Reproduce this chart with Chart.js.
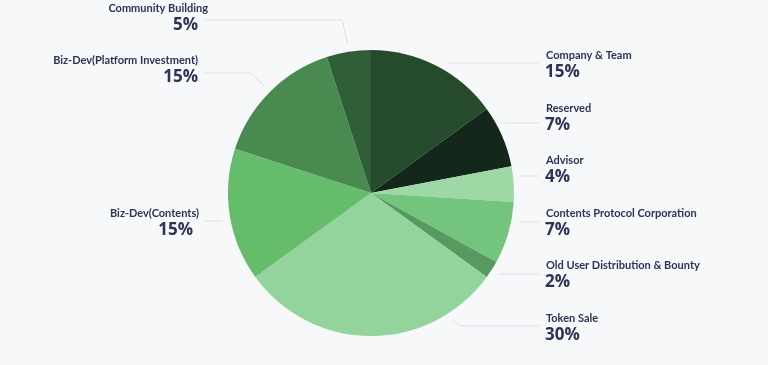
<!DOCTYPE html>
<html>
<head>
<meta charset="utf-8">
<script src="https://cdn.jsdelivr.net/npm/chart.js@4"></script>
<style>
  html, body { margin: 0; padding: 0; background: #f7f8fa; }
  #wrap { width: 768px; height: 365px; position: relative; }
</style>
</head>
<body>
<div id="wrap"><canvas id="tokenChart" width="768" height="365"></canvas></div>
<script>
const categories = [
  "Company & Team",
  "Reserved",
  "Advisor",
  "Contents Protocol Corporation",
  "Old User Distribution & Bounty",
  "Token Sale",
  "Biz-Dev(Contents)",
  "Biz-Dev(Platform Investment)",
  "Community Building"
];
const shares = [15, 7, 4, 7, 2, 30, 15, 15, 5];
const sliceColors = [
  "#264b2c", "#13271a", "#9ed9a5", "#73c47c", "#569a5f",
  "#93d39c", "#65bc6b", "#488a50", "#2f5e37"
];

// label placement: side, y of the name, y of the leader line, optional elbow
const labelLayout = [
  { side: "right", nameY: 55, lineY: 63 },
  { side: "right", nameY: 108, lineY: 123 },
  { side: "right", nameY: 160, lineY: 176 },
  { side: "right", nameY: 213, lineY: 222 },
  { side: "right", nameY: 265, lineY: 274 },
  { side: "right", nameY: 318, lineY: 326, elbow: true, angle: 147 },
  { side: "left", nameY: 213, lineY: 221, nameX: 199, valX: 193 },
  { side: "left", nameY: 60, lineY: 73, elbow: true, nameX: 198, valX: 198 },
  { side: "left", nameY: 8, lineY: 20, elbow: true, elbowDx: 5, nameX: 208, valX: 198 }
];

const leaderLabels = {
  id: "leaderLabels",
  afterDraw(chart) {
    const ctx = chart.ctx;
    const meta = chart.getDatasetMeta(0);
    ctx.save();
    meta.data.forEach((arc, i) => {
      const lay = labelLayout[i];
      const R = arc.outerRadius + 8;
      const cx = arc.x, cy = arc.y;
      const right = lay.side === "right";
      const lineEnd = right ? 539 : 205;

      ctx.strokeStyle = "#dde0e5";
      ctx.lineWidth = 1;
      ctx.beginPath();
      if (lay.elbow) {
        let a = (arc.startAngle + arc.endAngle) / 2;
        if (lay.angle !== undefined) a = (lay.angle - 90) * Math.PI / 180;
        const sx = cx + R * Math.cos(a), sy = cy + R * Math.sin(a);
        const dy = Math.abs(sy - lay.lineY);
        const dx = lay.elbowDx !== undefined ? lay.elbowDx : dy;
        const ex = right ? sx + dx : sx - dx;
        ctx.moveTo(sx, sy);
        ctx.lineTo(ex, lay.lineY);
        ctx.lineTo(lineEnd, lay.lineY);
      } else {
        const dy = lay.lineY - cy;
        const off = Math.sqrt(Math.max(R * R - dy * dy, 0));
        const sx = right ? cx + off : cx - off;
        ctx.moveTo(sx, lay.lineY);
        ctx.lineTo(lineEnd, lay.lineY);
      }
      ctx.stroke();

      ctx.fillStyle = "#2b3356";
      ctx.textAlign = right ? "left" : "right";
      ctx.textBaseline = "middle";
      ctx.font = "bold 11px Lato, sans-serif";
      ctx.fillText(categories[i], right ? 546 : lay.nameX, lay.nameY);
      ctx.font = "bold 17px 'Open Sans', sans-serif";
      ctx.fillText(shares[i] + "%", right ? 545 : lay.valX, lay.nameY + 17);
    });
    ctx.restore();
  }
};

new Chart(document.getElementById("tokenChart"), {
  type: "pie",
  data: {
    labels: categories,
    datasets: [{
      data: shares,
      backgroundColor: sliceColors,
      borderWidth: 0
    }]
  },
  options: {
    responsive: false,
    animation: false,
    layout: { padding: { left: 228, right: 254, top: 50, bottom: 29 } },
    plugins: {
      legend: { display: false },
      tooltip: { enabled: false }
    }
  },
  plugins: [leaderLabels]
});
</script>
</body>
</html>
